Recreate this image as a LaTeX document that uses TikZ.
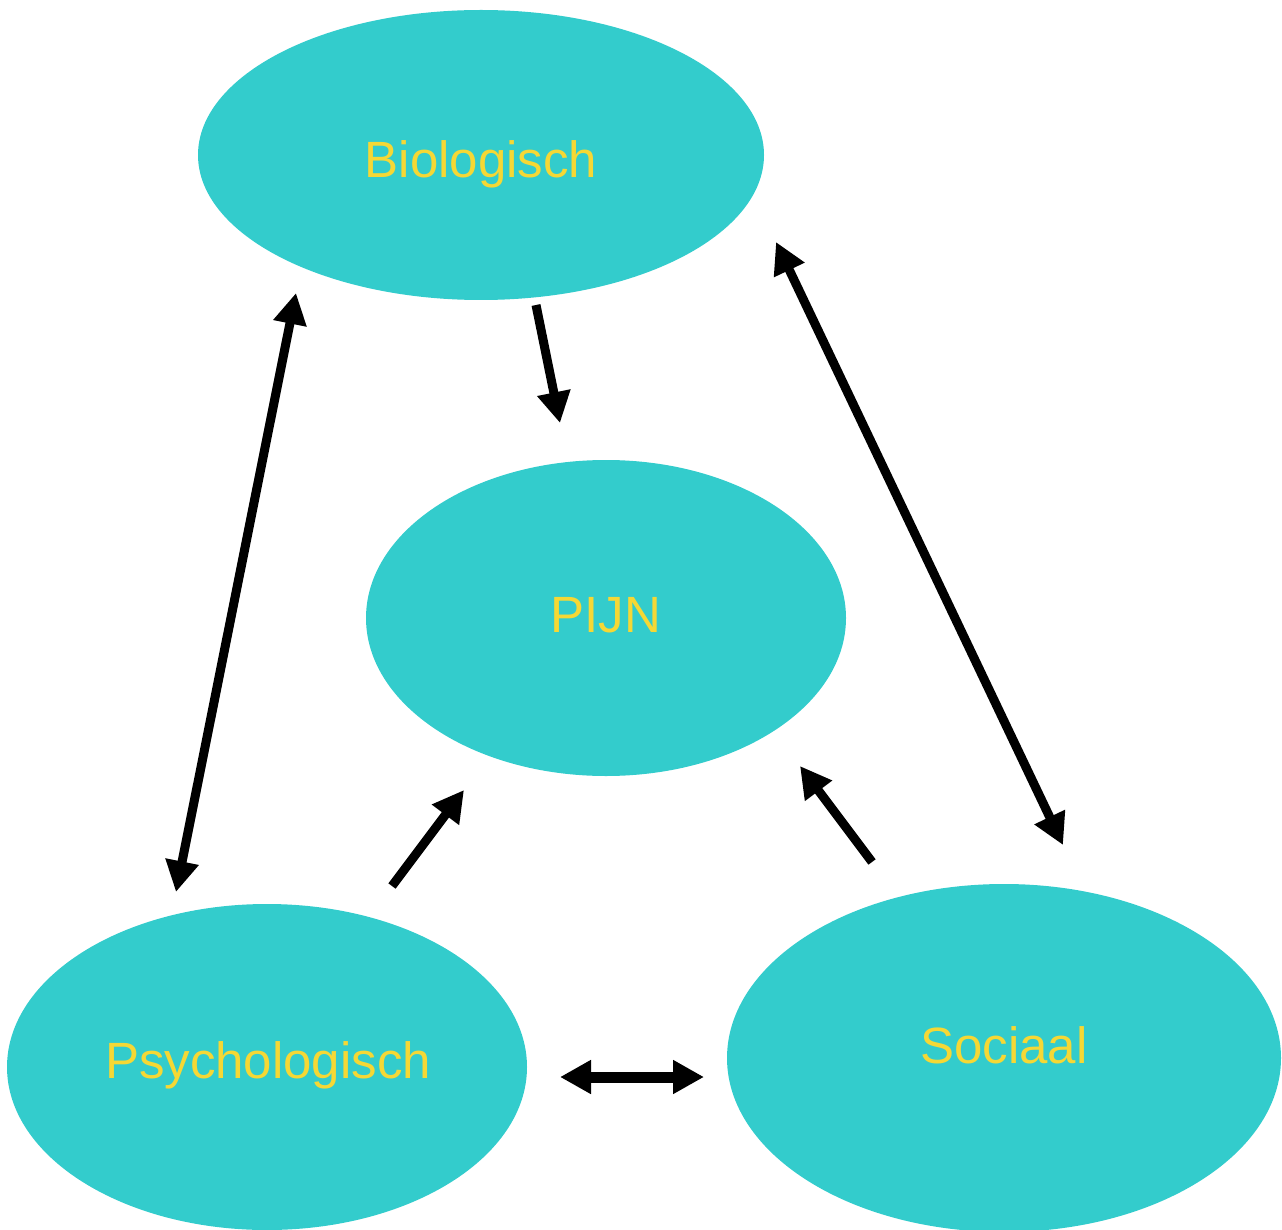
\documentclass[tikz,border=0pt]{standalone}
\usepackage{fontspec}
\setmainfont{Liberation Sans}
\usetikzlibrary{shapes.geometric,arrows.meta}
\definecolor{turq}{HTML}{33CCCC}
\definecolor{lbl}{HTML}{F5D835}
\tikzset{
  blob/.style={ellipse, fill=turq, draw=none, inner sep=0pt},
  lbltext/.style={text=lbl, font=\fontsize{51}{61}\selectfont, anchor=base, inner sep=0pt},
  conn/.style={line width=9pt, draw=black, -{Triangle[length=31pt,width=32pt]}},
  bconn/.style={line width=9pt, draw=black, {Triangle[length=31pt,width=32pt]}-{Triangle[length=31pt,width=32pt]}},
}
\begin{document}
\begin{tikzpicture}[x=1pt,y=-1pt]
\useasboundingbox (0,0) rectangle (1282,1230);
\clip (0,0) rectangle (1282,1230);
% ellipses
\node[blob, minimum width=566pt, minimum height=290pt] (bio) at (481,155) {};
\node[blob, minimum width=480pt, minimum height=316pt] (pijn) at (606,618) {};
\node[blob, minimum width=520pt, minimum height=326pt] (psy) at (267,1067) {};
\node[blob, minimum width=554pt, minimum height=348pt] (soc) at (1004,1058) {};
% labels
\node[lbltext] (biot) at (481,178) {Biologisch};
\node[lbltext] (pijnt) at (606,632) {PIJN};
\node[lbltext] (psyt) at (268,1078) {Psychologisch};
\node[lbltext] (soct) at (1004,1063) {Sociaal};
% connector end points
\coordinate (bp1) at (536,305);
\coordinate (bp2) at (560,423);
\coordinate (bs1) at (296,293);
\coordinate (bs2) at (176,892);
\coordinate (bo1) at (776,242);
\coordinate (bo2) at (1063,845);
\coordinate (pp1) at (392,886);
\coordinate (pp2) at (464,790);
\coordinate (sp1) at (872,862);
\coordinate (sp2) at (800,766);
\coordinate (ps1) at (560,1077);
\coordinate (ps2) at (704,1077);
% connectors
\draw[conn] (bp1) -- (bp2);
\draw[bconn] (bs1) -- (bs2);
\draw[bconn] (bo1) -- (bo2);
\draw[conn] (pp1) -- (pp2);
\draw[conn] (sp1) -- (sp2);
\draw[bconn, line width=11pt] (ps1) -- (ps2);
\end{tikzpicture}
\end{document}
